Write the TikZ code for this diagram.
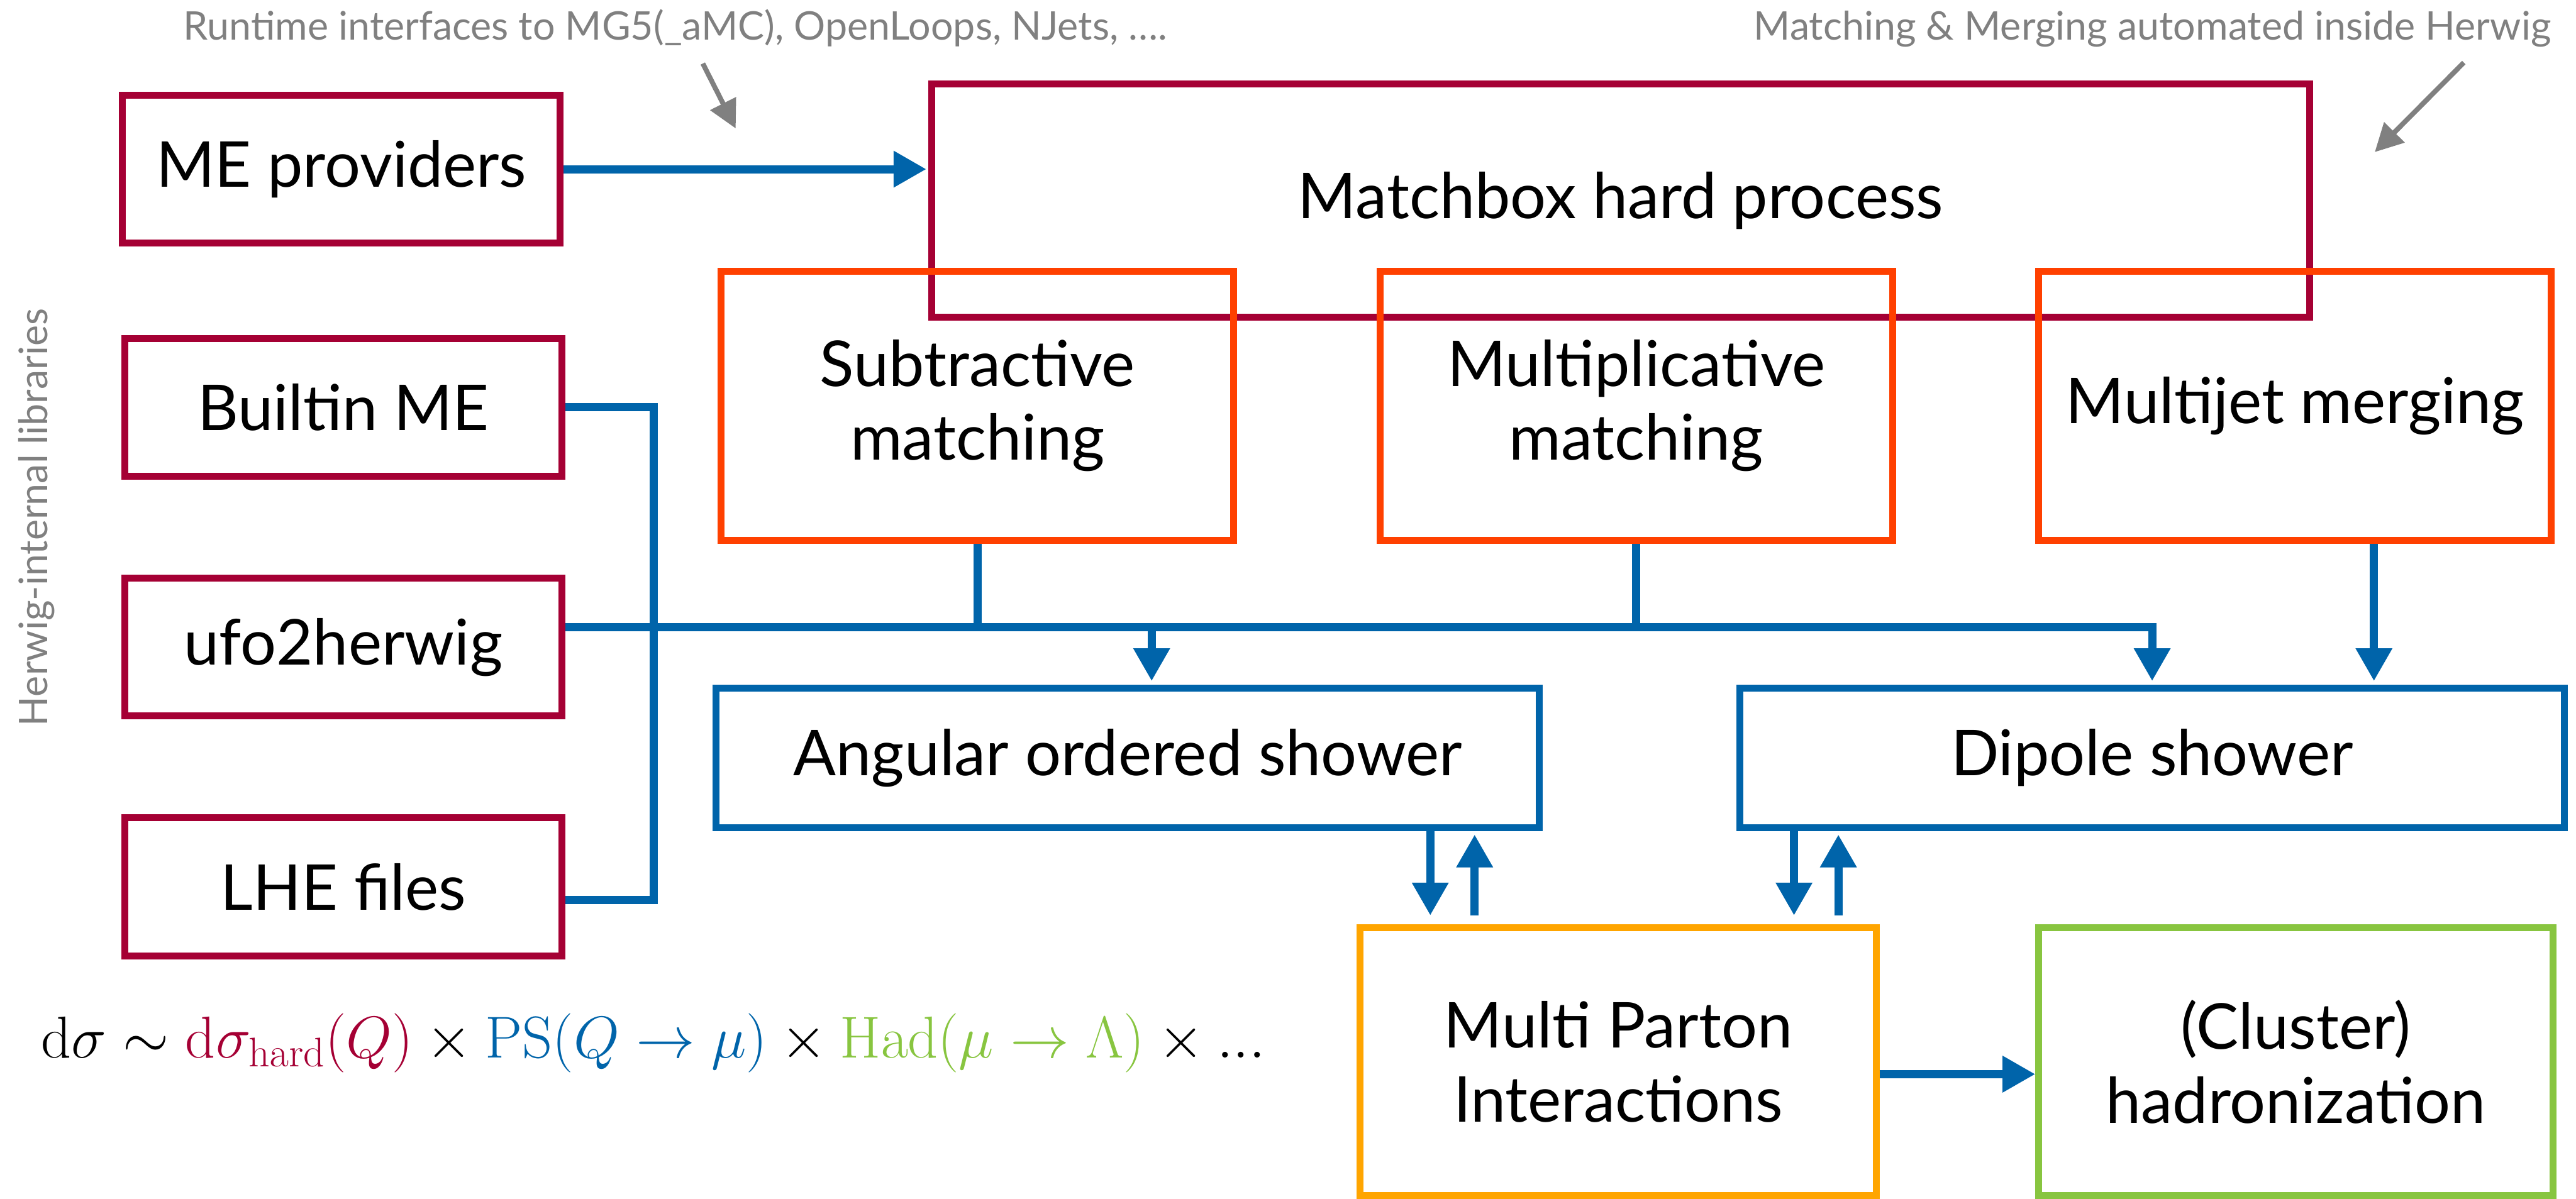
\documentclass[tikz,border=0pt]{standalone}
\usepackage{fix-cm}
\usepackage[no-math]{fontspec}
\setmainfont{Lato}
\usetikzlibrary{arrows.meta}
\definecolor{crim}{HTML}{A50034}
\definecolor{ored}{HTML}{FF4000}
\definecolor{blu}{HTML}{0064AA}
\definecolor{orng}{HTML}{FFA500}
\definecolor{grn}{HTML}{88C540}
\definecolor{gry}{HTML}{808080}
\begin{document}
\begin{tikzpicture}[x=1pt,y=-1pt,
 box/.style={draw, line width=4.2pt, inner sep=0pt, align=center, text=black,
   font=\fontsize{38.5}{45}\selectfont},
 conn/.style={draw=blu, line width=5pt},
 arr/.style={conn, -{Triangle[length=20pt,width=21pt]}},
 garr/.style={draw=gry, line width=3pt, -{Triangle[length=17pt,width=17pt]}},
 gtext/.style={text=gry, font=\fontsize{24}{28}\selectfont, inner sep=0pt}
]
\useasboundingbox (0,0) rectangle (1568,730);

% boxes
\node[box, draw=crim, minimum width=839pt, minimum height=142pt] (mb) at (986.5,122) {Matchbox hard process};
\node[box, draw=crim, minimum width=266.5pt, minimum height=90pt] (mep) at (207.75,103) {ME providers};
\node[box, draw=crim, minimum width=266pt, minimum height=84pt] (bme) at (209,248) {Builtin ME};
\node[box, draw=crim, minimum width=266pt, minimum height=84pt] (ufo) at (209,394) {ufo2herwig};
\node[box, draw=crim, minimum width=266pt, minimum height=84pt] (lhe) at (209,540) {LHE files};

\node[box, draw=ored, minimum width=312pt, minimum height=164pt] (sub) at (595,247) {Subtractive\\matching};
\node[box, draw=ored, minimum width=312pt, minimum height=164pt] (mul) at (996,247) {Multiplicative\\matching};
\node[box, draw=ored, minimum width=312pt, minimum height=164pt] (mj) at (1397,247) {Multijet merging};

\node[box, draw=blu, minimum width=501pt, minimum height=85.2pt] (ang) at (686.5,461.4) {Angular ordered shower};
\node[box, draw=blu, minimum width=502pt, minimum height=85.2pt] (dip) at (1310,461.4) {Dipole shower};

\node[box, draw=orng, minimum width=314pt, minimum height=163pt] (mpi) at (985,646.5) {Multi Parton\\Interactions};
\node[box, draw=grn, minimum width=313pt, minimum height=163pt] (had) at (1397.5,646.5) {(Cluster)\\hadronization};

% helper coordinates
\coordinate (bx) at (398,0);
\coordinate (busL) at ([yshift=12pt]ufo.east);
\coordinate (xa) at (701,0);
\coordinate (xm) at (1445,0);
\coordinate (xd1) at (870.6,0);
\coordinate (xu1) at (897.6,0);
\coordinate (xd2) at (1092,0);
\coordinate (xu2) at (1119,0);

% connectors
\draw[arr, shorten >=1pt] (mep.east) -- (mep.east -| mb.west);
\draw[conn] (bme.east) -- (bme.east -| bx) -- ([yshift=-8pt]lhe.east -| bx) -- ([yshift=-8pt]lhe.east);
\draw[arr, shorten >=2pt] (busL) -| (dip.north);
\draw[arr, shorten >=2pt] (xa |- busL) -- (xa |- ang.north);
\draw[conn] (sub.south) -- (sub.south |- busL);
\draw[conn] (mul.south) -- (mul.south |- busL);
\draw[arr, shorten >=2pt] (xm |- mj.south) -- (xm |- dip.north);
\draw[arr, shorten >=5.5pt] (xd1 |- ang.south) -- (xd1 |- mpi.north);
\draw[arr, shorten <=5.5pt, shorten >=2pt] (xu1 |- mpi.north) -- (xu1 |- ang.south);
\draw[arr, shorten >=5.5pt] (xd2 |- dip.south) -- (xd2 |- mpi.north);
\draw[arr, shorten <=5.5pt, shorten >=2pt] (xu2 |- mpi.north) -- (xu2 |- dip.south);
\draw[arr] ([yshift=-7.5pt]mpi.east) -- ([yshift=-7.5pt]had.west);

% gray annotations
\node[gtext, anchor=base] (rt) at (411,24.5) {Runtime interfaces to MG5(\_aMC), OpenLoops, NJets, ….};
\node[gtext, anchor=base east] (mm) at (1553,24.5) {Matching \& Merging automated inside Herwig};
\node[gtext, rotate=90, anchor=base] (hil) at (28.9,315) {Herwig-internal libraries};
\coordinate (g1s) at (427.8,38.7);
\coordinate (g1e) at (447.8,78.2);
\coordinate (g2s) at (1499.7,38.1);
\coordinate (g2e) at (1445.5,92.6);
\draw[garr] (g1s) -- (g1e);
\draw[garr] (g2s) -- (g2e);

% formula
\node[anchor=base west, inner sep=0pt, font=\fontsize{36}{41}\selectfont] (eq) at (25,644)
 {$\mathrm{d}\sigma \sim {\color{crim}\mathrm{d}\sigma_{\mathrm{hard}}(Q)} \times {\color{blu}\mathrm{PS}(Q\to\mu)} \times {\color{grn}\mathrm{Had}(\mu\to\Lambda)} \times {...}$};
\end{tikzpicture}
\end{document}
